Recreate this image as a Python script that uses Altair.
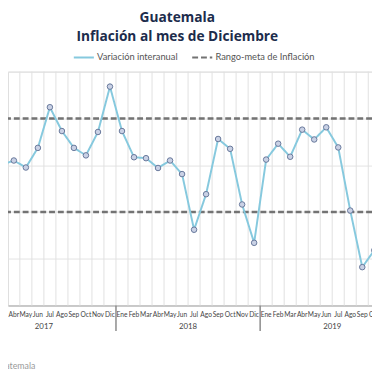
import altair as alt
import pandas as pd

# ---- data -------------------------------------------------------------
month_names = ["Ene", "Feb", "Mar", "Abr", "May", "Jun",
               "Jul", "Ago", "Sep", "Oct", "Nov", "Dic"]
years = [2017, 2018, 2019]

# month index (0 = Ene 2017) of the visible series, Mar 2017 .. Oct 2019
series_start = 2
inflacion = [4.01, 4.10, 3.95, 4.37, 5.24, 4.73, 4.37, 4.21, 4.71, 5.68,
             4.73, 4.17, 4.15, 3.94, 4.10, 3.81, 2.62, 3.38, 4.56, 4.35, 3.16, 2.34,
             4.12, 4.46, 4.18, 4.76, 4.55, 4.81, 4.38, 3.03, 1.82, 2.18]
meta_range = [3, 5]
y_ticks = [1, 2, 3, 4, 5, 6]

S1 = "Variación interanual"
S2 = "Rango-meta de Inflación"

df_line = pd.DataFrame({
    "t": list(range(series_start, series_start + len(inflacion))),
    "valor": inflacion,
    "serie": S1,
})
df_meta = pd.DataFrame({"valor": meta_range, "serie": S2})
n_months = len(years) * 12
df_months = pd.DataFrame({
    "t": list(range(n_months)),
    "mes": [month_names[i % 12] for i in range(n_months)],
})
df_grid = pd.DataFrame({"t": [i + 0.5 for i in range(-1, n_months)]})
df_grid["y0"] = min(y_ticks)
df_grid["y1"] = max(y_ticks)
df_years = pd.DataFrame({"t": [i * 12 + 5.5 for i in range(len(years))],
                         "anio": [str(y) for y in years]})
df_sep = pd.DataFrame({"t": [i * 12 - 0.5 for i in range(1, len(years))]})

# ---- layout -------------------------------------------------------------
W, H = 372, 239
x_dom = [2.513, 32.81]
xs = alt.Scale(domain=x_dom, nice=False, zero=False)
ys = alt.Scale(domain=[min(y_ticks), max(y_ticks)], nice=False, zero=False)

color_scale = alt.Scale(domain=[S1, S2], range=["#86c9de", "#737373"])
dash_scale = alt.Scale(domain=[S1, S2], range=[[1, 0], [6, 3]])

x_axis = alt.Axis(labels=False, ticks=False, grid=False, domain=True,
                  domainColor="#a8a8a8", domainWidth=1, title=None)
y_axis = alt.Axis(labels=False, ticks=False, grid=True, domain=False,
                  values=y_ticks, gridColor="#e2e2e2", title=None)

vgrid = alt.Chart(df_grid).mark_rule(color="#e0e0e0", strokeWidth=1).encode(
    x=alt.X("t:Q", scale=xs, axis=x_axis),
    y=alt.Y("y0:Q", scale=ys, axis=y_axis),
    y2="y1:Q",
)

meta = alt.Chart(df_meta).mark_rule(strokeWidth=2.5).encode(
    y=alt.Y("valor:Q", scale=ys),
    color=alt.Color("serie:N", scale=color_scale, legend=alt.Legend(
        orient="none", legendX=66, legendY=-26, direction="horizontal",
        title=None, symbolType="stroke", symbolSize=420, symbolStrokeWidth=2,
        labelFontSize=9.5, labelColor="#555555", labelFont="Lato",
        columnPadding=10, labelOffset=2)),
    strokeDash=alt.StrokeDash("serie:N", scale=dash_scale, legend=None),
)

line = alt.Chart(df_line).mark_line(strokeWidth=2).encode(
    x=alt.X("t:Q", scale=xs),
    y=alt.Y("valor:Q", scale=ys),
    color=alt.Color("serie:N", scale=color_scale),
    strokeDash=alt.StrokeDash("serie:N", scale=dash_scale, legend=None),
)

points = alt.Chart(df_line).mark_point(
    filled=True, size=32, fill="#c9d1e5", stroke="#66779a", strokeWidth=1,
    opacity=1).encode(
    x=alt.X("t:Q", scale=xs),
    y=alt.Y("valor:Q", scale=ys),
)

month_text = alt.Chart(df_months).mark_text(
    fontSize=6.8, color="#444444", font="Lato", baseline="middle").encode(
    x=alt.X("t:Q", scale=xs),
    y=alt.value(H + 10),
    text="mes:N",
)

year_text = alt.Chart(df_years).mark_text(
    fontSize=8, color="#444444", font="Lato", baseline="middle").encode(
    x=alt.X("t:Q", scale=xs),
    y=alt.value(H + 22),
    text="anio:N",
)

sep = alt.Chart(df_sep).mark_rule(color="#8a8a8a", strokeWidth=1.5).encode(
    x=alt.X("t:Q", scale=xs),
    y=alt.value(H),
    y2=alt.value(H + 26),
)

source = alt.Chart(pd.DataFrame({"s": ["Fuente: Banco de Guatemala"]})).mark_text(
    fontSize=9, color="#9a9a9a", font="Lato", align="right", baseline="middle").encode(
    x=alt.value(28),
    y=alt.value(H + 62),
    text="s:N",
)

chart = alt.layer(vgrid, meta, line, points, month_text, year_text, sep, source).properties(
    width=W, height=H,
    autosize=alt.AutoSizeParams(type="none"),
    padding={"left": 0, "top": 61, "right": 0, "bottom": 68},
    title=alt.TitleParams(
        ["Guatemala", "Inflación al mes de Diciembre"],
        anchor="middle", frame="group", fontSize=14, font="Open Sans",
        fontWeight="bold", color="#1c2c4c", lineHeight=19.5, offset=9,
        dx=-13, dy=7),
).configure_view(stroke=None).configure(background="white")

chart.save("out.html", embed_options={"renderer": "svg", "actions": False})
